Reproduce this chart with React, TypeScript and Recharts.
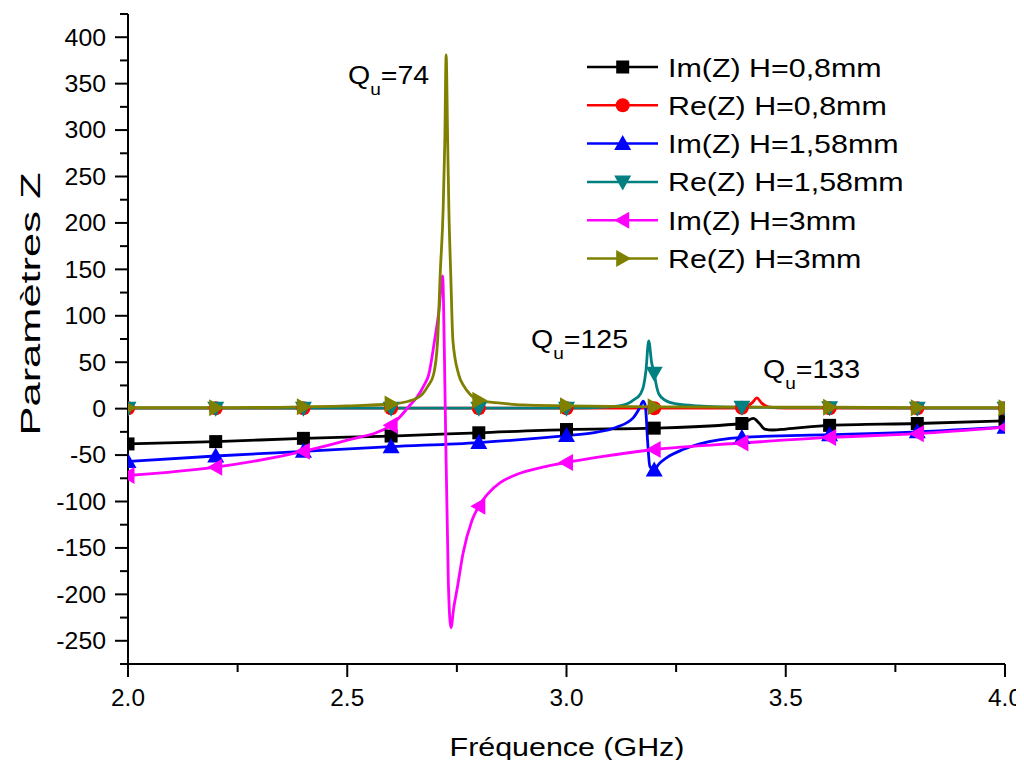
import React from 'react';
import { LineChart, Line, XAxis, YAxis, Legend } from 'recharts';

const FONT = '"Liberation Sans", Arial, Helvetica, sans-serif';

// ---- Data (frequency in GHz, Z parameters) ----
const F_IM_08 = [2.0, 2.2, 2.4, 2.6, 2.8, 3.0, 3.2, 3.4, 3.426, 3.44, 3.452, 3.47, 3.5, 3.6, 3.8, 4.0];
const IM_Z_08 = [-38, -35.5, -32, -29.5, -26, -22.5, -21, -16, -10.5, -16, -22, -23, -22, -18, -16, -13];

const F_RE_08 = [2.0, 2.2, 2.4, 2.6, 2.8, 3.0, 3.2, 3.38, 3.4, 3.41, 3.425, 3.434, 3.445, 3.46, 3.5, 3.6, 3.8, 4.0];
const RE_Z_08 = [0.5, 0.5, 0.5, 0.5, 0.5, 0.5, 0.5, 0.5, 1, 2, 7, 11.5, 6, 2, 0.5, 0.5, 0.5, 0.5];

const F_IM_158 = [2.0, 2.2, 2.4, 2.6, 2.8, 3.0, 3.06, 3.114, 3.152, 3.167, 3.175, 3.18, 3.185, 3.19, 3.2, 3.21, 3.228, 3.266, 3.304, 3.4, 3.6, 3.8, 4.0];
const IM_Z_158 = [-57, -51, -46, -41, -36.5, -29, -26, -20, -10, 1, 8, 2, -35, -62, -66, -60, -53, -44, -38, -31, -28, -25, -20];

const F_RE_158 = [2.0, 2.2, 2.4, 2.6, 2.8, 3.0, 3.1, 3.137, 3.155, 3.168, 3.176, 3.181, 3.1875, 3.194, 3.2, 3.205, 3.211, 3.225, 3.252, 3.3, 3.4, 3.6, 3.8, 4.0];
const RE_Z_158 = [0.5, 0.5, 0.5, 0.5, 0.5, 0.5, 2, 5, 10, 15.5, 25, 40, 73, 50, 38, 25, 15.5, 9, 5, 3, 1.5, 1, 0.5, 0.5];

const F_IM_3 = [2.0, 2.2, 2.4, 2.5, 2.6, 2.62, 2.64, 2.66, 2.675, 2.686, 2.699, 2.709, 2.7175, 2.7215, 2.7235, 2.7305, 2.7365, 2.743, 2.751, 2.764, 2.784, 2.8, 2.82, 2.848, 2.886, 2.946, 3.0, 3.076, 3.2, 3.4, 3.6, 3.8, 4.0];
const IM_Z_3 = [-72, -63, -46, -34, -18, -9, 2, 13, 25, 37, 73, 105, 143, 60, 0, -186, -236, -214, -193, -156, -121, -105, -92, -80, -71, -63, -58, -52, -44, -37, -31, -27, -20];

const F_RE_3 = [2.0, 2.2, 2.4, 2.5, 2.6, 2.64, 2.67, 2.685, 2.697, 2.706, 2.712, 2.7188, 2.7225, 2.7255, 2.729, 2.7317, 2.736, 2.741, 2.754, 2.765, 2.781, 2.8, 2.85, 2.9, 3.0, 3.2, 3.5, 3.6, 3.8, 4.0];
const RE_Z_3 = [1, 1, 2, 3, 5, 8, 15, 25, 37, 73, 145, 216, 288, 381, 288, 216, 145, 73, 37, 25, 15, 9, 6, 4, 3, 2, 1.5, 1.5, 1, 1];

const MARKER_FREQS = [2.0, 2.2, 2.4, 2.6, 2.8, 3.0, 3.2, 3.4, 3.6, 3.8, 4.0];
const X_TICKS = [2.0, 2.25, 2.5, 2.75, 3.0, 3.25, 3.5, 3.75, 4.0];
const Y_TICKS = [-275, -250, -225, -200, -175, -150, -125, -100, -75, -50, -25, 0, 25, 50, 75, 100, 125, 150, 175, 200, 225, 250, 275, 300, 325, 350, 375, 400, 425];

type Shape = 'square' | 'circle' | 'up' | 'down' | 'left' | 'right';

const SERIES: { name: string; color: string; shape: Shape; freqs: number[]; values: number[] }[] = [
  { name: 'Im(Z) H=0,8mm', color: '#000000', shape: 'square', freqs: F_IM_08, values: IM_Z_08 },
  { name: 'Re(Z) H=0,8mm', color: '#ff0000', shape: 'circle', freqs: F_RE_08, values: RE_Z_08 },
  { name: 'Im(Z) H=1,58mm', color: '#0000ff', shape: 'up', freqs: F_IM_158, values: IM_Z_158 },
  { name: 'Re(Z) H=1,58mm', color: '#008080', shape: 'down', freqs: F_RE_158, values: RE_Z_158 },
  { name: 'Im(Z) H=3mm', color: '#ff00ff', shape: 'left', freqs: F_IM_3, values: IM_Z_3 },
  { name: 'Re(Z) H=3mm', color: '#808000', shape: 'right', freqs: F_RE_3, values: RE_Z_3 },
];

const toPoints = (fs: number[], vs: number[]) => fs.map((f, i) => ({ f, v: vs[i] }));
const isMarker = (f: number) => MARKER_FREQS.some((m) => Math.abs(m - f) < 1e-9);

function markerEl(shape: Shape, cx: number, cy: number, color: string) {
  switch (shape) {
    case 'square':
      return <rect x={cx - 6.5} y={cy - 6.5} width={13} height={13} fill={color} />;
    case 'circle':
      return <circle cx={cx} cy={cy} r={7} fill={color} />;
    case 'up':
      return <polygon points={`${cx},${cy - 8.5} ${cx + 8.5},${cy + 6.5} ${cx - 8.5},${cy + 6.5}`} fill={color} />;
    case 'down':
      return <polygon points={`${cx},${cy + 8.5} ${cx + 8.5},${cy - 6.5} ${cx - 8.5},${cy - 6.5}`} fill={color} />;
    case 'left':
      return <polygon points={`${cx - 8.5},${cy} ${cx + 6.5},${cy - 8.5} ${cx + 6.5},${cy + 8.5}`} fill={color} />;
    case 'right':
    default:
      return <polygon points={`${cx + 8.5},${cy} ${cx - 6.5},${cy - 8.5} ${cx - 6.5},${cy + 8.5}`} fill={color} />;
  }
}

const makeDot = (shape: Shape, color: string) => (props: any) => {
  const { cx, cy, payload, index } = props;
  if (cx == null || cy == null || !payload || !isMarker(payload.f)) return <g key={`d${index}`} />;
  return <g key={`d${index}`}>{markerEl(shape, cx, cy, color)}</g>;
};

const YTick = (props: any) => {
  const { x, y, payload } = props;
  const v = payload.value;
  const major = v % 50 === 0;
  return (
    <g>
      <line x1={x} x2={x - (major ? 13 : 8)} y1={y} y2={y} stroke="#000" strokeWidth={2} />
      {major && (
        <text transform={`translate(${x - 22},${y + 8.3}) scale(1.08,1)`} textAnchor="end" fontFamily={FONT} fontSize={23} fill="#000">
          {v}
        </text>
      )}
    </g>
  );
};

const XTick = (props: any) => {
  const { x, y, payload } = props;
  const v = payload.value;
  const major = Math.abs(v * 2 - Math.round(v * 2)) < 1e-9;
  return (
    <g>
      <line x1={x} x2={x} y1={y} y2={y + (major ? 13 : 8)} stroke="#000" strokeWidth={2} />
      {major && (
        <text transform={`translate(${x},${y + 41.5}) scale(1.06,1)`} textAnchor="middle" fontFamily={FONT} fontSize={23} fill="#000">
          {v.toFixed(1)}
        </text>
      )}
    </g>
  );
};

const renderLegend = () => (
  <svg width={440} height={240} style={{ display: 'block' }}>
    {SERIES.map((s, i) => {
      const y = 21 + i * 38.3;
      return (
        <g key={s.name}>
          <line x1={9} x2={80} y1={y} y2={y} stroke={s.color} strokeWidth={2.5} />
          {markerEl(s.shape, 44.7, y, s.color)}
          <text transform={`translate(90,${y + 9.5}) scale(1.17,1)`} fontFamily={FONT} fontSize={26} fill="#000">
            {s.name}
          </text>
        </g>
      );
    })}
  </svg>
);

const QLabel = ({ x, y, value }: { x: number; y: number; value: string }) => (
  <text transform={`translate(${x},${y}) scale(1.12,1)`} fontFamily={FONT} fontSize={25.5} fill="#000">
    Q
    <tspan fontSize={17} dy={11}>u</tspan>
    <tspan fontSize={25.5} dy={-11}>{`=${value}`}</tspan>
  </text>
);

export default function App() {
  return (
    <div style={{ position: 'relative', width: 1016, height: 752, background: '#fff' }}>
      <LineChart width={1016} height={752} margin={{ top: 6, right: 19, left: 0, bottom: 0 }}>
        <XAxis
          dataKey="f"
          type="number"
          domain={[2, 4]}
          ticks={X_TICKS}
          interval={0}
          allowDataOverflow
          height={96}
          tickSize={0}
          tickMargin={0}
          tickLine={false}
          axisLine={{ stroke: '#000', strokeWidth: 2 }}
          tick={<XTick />}
        />
        <YAxis
          type="number"
          domain={[-275, 425]}
          ticks={Y_TICKS}
          interval={0}
          allowDataOverflow
          width={120}
          tickSize={0}
          tickMargin={0}
          tickLine={false}
          axisLine={{ stroke: '#000', strokeWidth: 2 }}
          tick={<YTick />}
        />
        <Legend
          layout="vertical"
          align="center"
          verticalAlign="middle"
          wrapperStyle={{ position: 'absolute', left: 570, top: 38, width: 440, height: 240 }}
          content={renderLegend}
        />
        {SERIES.map((s) => (
          <Line
            key={s.name}
            name={s.name}
            data={toPoints(s.freqs, s.values)}
            dataKey="v"
            type="monotone"
            stroke={s.color}
            strokeWidth={2.8}
            dot={makeDot(s.shape, s.color)}
            activeDot={false}
            isAnimationActive={false}
          />
        ))}
      </LineChart>
      <svg width={1016} height={752} style={{ position: 'absolute', left: 0, top: 0, pointerEvents: 'none' }}>
        <QLabel x={340} y={76} value="74" />
        <QLabel x={523} y={340} value="125" />
        <QLabel x={755} y={370} value="133" />
        <text transform="translate(559,748) scale(1.17,1)" textAnchor="middle" fontFamily={FONT} fontSize={26} fill="#000">
          Fréquence (GHz)
        </text>
        <text transform="translate(32,296) rotate(-90) scale(1.55,1)" textAnchor="middle" fontFamily={FONT} fontSize={28} fill="#000">
          Paramètres Z
        </text>
      </svg>
    </div>
  );
}
